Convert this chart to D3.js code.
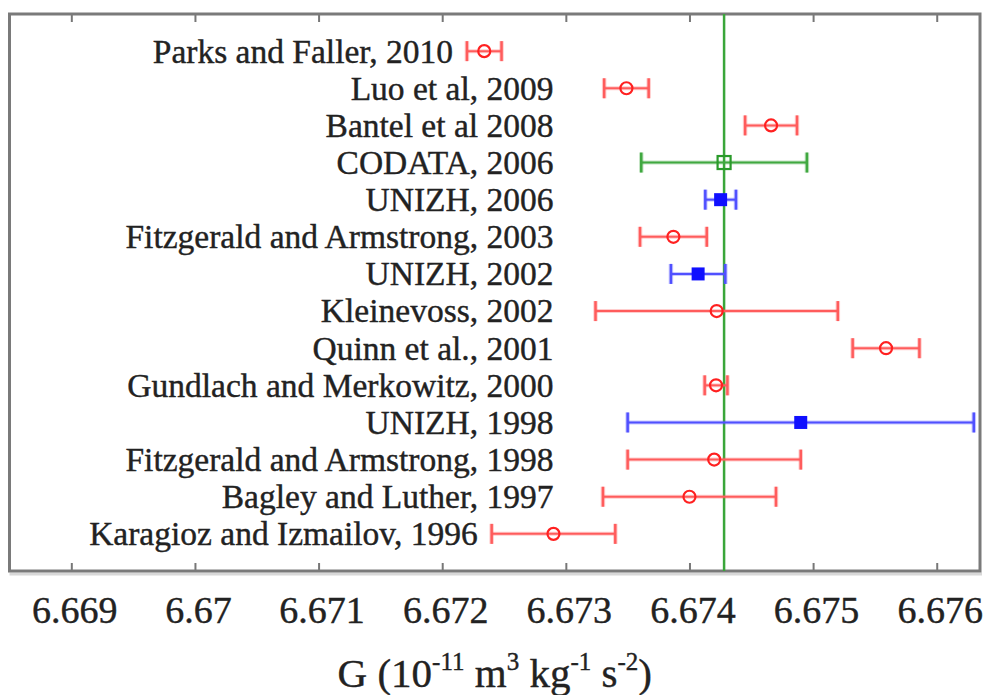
<!DOCTYPE html>
<html>
<head>
<meta charset="utf-8">
<script src="https://cdn.jsdelivr.net/npm/d3@7"></script>
<style>
  body { margin: 0; background: #fff; }
  svg { display: block; font-family: "Liberation Serif", "DejaVu Serif", serif; }
</style>
</head>
<body>
<svg id="chart"></svg>
<script>
/* Data, top row first */
var labels = [
  "Parks and Faller, 2010",
  "Luo et al, 2009",
  "Bantel et al 2008",
  "CODATA, 2006",
  "UNIZH, 2006",
  "Fitzgerald and Armstrong, 2003",
  "UNIZH, 2002",
  "Kleinevoss,  2002",
  "Quinn et al., 2001",
  "Gundlach and Merkowitz, 2000",
  "UNIZH, 1998",
  "Fitzgerald and Armstrong, 1998",
  "Bagley and Luther, 1997",
  "Karagioz and Izmailov, 1996"
];
var gValues = [6.67234, 6.67349, 6.67466, 6.67428, 6.674252, 6.67387, 6.67407,
               6.67422, 6.67559, 6.674215, 6.6749, 6.6742, 6.6740, 6.6729];
var gErrors = [0.00014, 0.00018, 0.00021, 0.00067, 0.000124, 0.00027, 0.00022,
               0.00098, 0.00027, 0.000092, 0.0014, 0.0007, 0.0007, 0.0005];
var groups = ["exp", "exp", "exp", "codata", "unizh", "exp", "unizh",
              "exp", "exp", "exp", "unizh", "exp", "exp", "exp"];
var refValue = 6.67428;
var tickValues = [6.669, 6.67, 6.671, 6.672, 6.673, 6.674, 6.675, 6.676];
var xDomain = [6.6685, 6.67635];

/* SVG properties */
var width = 989, height = 695;
var mLeft = 9.5, mRight = 980, mTop = 14, mBottom = 571;
var textColor = "#222";

var svg = d3.select("#chart").attr("width", width).attr("height", height);

var x = d3.scaleLinear().domain(xDomain).range([mLeft, mRight]);
var y = d3.scaleLinear().domain([0, labels.length + 1]).range([mBottom, mTop]);
var rowY = function(i) { return y(labels.length - i); };

var colors = { exp: "#ff2020", unizh: "#1010ff", codata: "#2a9a2a" };
var barColors = { exp: "#ff5c5c", unizh: "#5050ff", codata: "#40a840" };

/* light shadow under the frame */
svg.append("line")
   .attr("x1", mLeft).attr("x2", mRight + 2)
   .attr("y1", mBottom + 3).attr("y2", mBottom + 3)
   .attr("stroke", "#d8d8d8").attr("stroke-width", 3);

/* axes (ticks pointing inwards) */
var xAxisBottom = d3.axisBottom(x).tickValues(tickValues)
                    .tickFormat(function(d) { return String(d); })
                    .tickSizeInner(-8).tickSizeOuter(0).tickPadding(25);
var gb = svg.append("g").attr("transform", "translate(0," + mBottom + ")").call(xAxisBottom);
gb.select(".domain").remove();
gb.selectAll(".tick line").attr("stroke", "#777").attr("stroke-width", 2);
gb.selectAll(".tick text").attr("font-size", 38).attr("fill", textColor)
  .attr("stroke", textColor).attr("stroke-width", 0.4)
  .attr("font-family", "Liberation Serif").attr("dx", 3);

var xAxisTop = d3.axisTop(x).tickValues(tickValues).tickFormat("")
                 .tickSizeInner(-8).tickSizeOuter(0);
var gt = svg.append("g").attr("transform", "translate(0," + mTop + ")").call(xAxisTop);
gt.select(".domain").remove();
gt.selectAll(".tick line").attr("stroke", "#777").attr("stroke-width", 2);

/* frame */
svg.append("rect")
   .attr("x", mLeft).attr("y", mTop)
   .attr("width", mRight - mLeft).attr("height", mBottom - mTop)
   .attr("fill", "none").attr("stroke", "#7a7a7a").attr("stroke-width", 3);

/* reference line */
svg.append("line")
   .attr("x1", x(refValue)).attr("x2", x(refValue))
   .attr("y1", mTop).attr("y2", mBottom)
   .attr("stroke", "#3aa63a").attr("stroke-width", 2.5);

/* error bars */
var rows = svg.selectAll("g.row").data(labels).enter().append("g").attr("class", "row");
rows.each(function(d, i) {
  var g = d3.select(this);
  var cy = rowY(i);
  var lo = x(gValues[i] - gErrors[i]);
  var hi = x(gValues[i] + gErrors[i]);
  var c = barColors[groups[i]];
  [4, 2].forEach(function(w, k) {
    var op = k === 0 ? 0.3 : 1;
    g.append("line").attr("x1", lo).attr("x2", hi).attr("y1", cy).attr("y2", cy)
     .attr("stroke", c).attr("stroke-width", w).attr("opacity", op);
    [lo, hi].forEach(function(px) {
      g.append("line").attr("x1", px).attr("x2", px).attr("y1", cy - 10).attr("y2", cy + 10)
       .attr("stroke", c).attr("stroke-width", w + 0.5).attr("opacity", op);
    });
  });
  var cx = x(gValues[i]);
  if (groups[i] === "exp") {
    g.append("circle").attr("cx", cx).attr("cy", cy).attr("r", 6)
     .attr("fill", "none").attr("stroke", colors.exp).attr("stroke-width", 2.2);
  } else if (groups[i] === "unizh") {
    g.append("rect").attr("x", cx - 6.5).attr("y", cy - 6.5).attr("width", 13).attr("height", 13)
     .attr("fill", colors.unizh);
  } else {
    g.append("rect").attr("x", cx - 6.5).attr("y", cy - 6.5).attr("width", 13).attr("height", 13)
     .attr("fill", "none").attr("stroke", colors.codata).attr("stroke-width", 2.2);
  }
  /* label: right aligned, left of the bar */
  var tx = Math.min(x(6.6729), lo - 14);
  g.append("text").attr("x", tx).attr("y", cy).attr("dy", "0.34em")
   .attr("text-anchor", "end").attr("font-size", 33.5).attr("fill", textColor)
   .attr("stroke", textColor).attr("stroke-width", 0.4)
   .text(d);
});

/* x axis title */
var title = svg.append("text")
   .attr("x", (mLeft + mRight) / 2).attr("y", 687)
   .attr("text-anchor", "middle").attr("font-size", 41).attr("fill", textColor)
   .attr("stroke", textColor).attr("stroke-width", 0.4);
var parts = [["G (10", false], ["-11", true], [" m", false], ["3", true],
             [" kg", false], ["-1", true], [" s", false], ["-2", true], [")", false]];
parts.forEach(function(p) {
  var t = title.append("tspan").text(p[0]);
  if (p[1]) t.attr("font-size", 25).attr("dy", -17);
  else if (p[0] !== "G (10") t.attr("dy", 17);
});
</script>
</body>
</html>
